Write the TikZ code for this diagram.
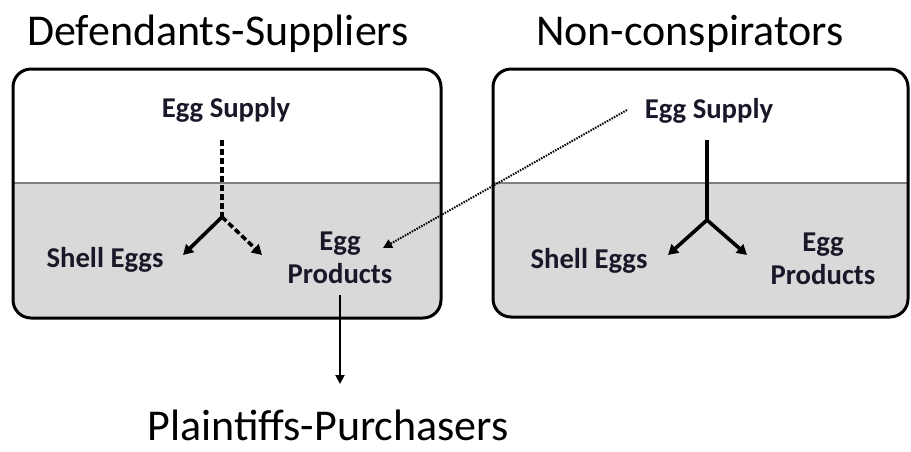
\documentclass[tikz,border=0pt]{standalone}
\usepackage{fontspec}
\setmainfont{Carlito}
\usetikzlibrary{arrows.meta}
\definecolor{boxgray}{HTML}{D9D9D9}
\definecolor{divgray}{HTML}{7F7F7F}
\definecolor{lblcol}{HTML}{181828}
\begin{document}
\begin{tikzpicture}[x=1pt,y=-1pt,
  title/.style={font=\fontsize{44}{50}\selectfont, anchor=base, inner sep=0pt},
  lbl/.style={font=\bfseries\fontsize{28.7}{34}\selectfont, anchor=base, inner sep=0pt, text=lblcol},
  border/.style={line width=3pt, rounded corners=18pt},
  divider/.style={divgray, line width=2pt},
  tree/.style={line width=3.6pt, -{Triangle[length=10pt,width=11pt]}},
  treeline/.style={line width=3.6pt},
  dashline/.style={dash pattern=on 6pt off 3pt},
  dotline/.style={line width=2pt, dash pattern=on 1.5pt off 1.2pt, -{Triangle[length=9pt,width=9pt]}},
  outarrow/.style={line width=2pt, -{Triangle[length=9pt,width=9pt]}}]
\useasboundingbox (0,0) rectangle (911,451);

% titles
\node[title] (t1) at (218,45) {Defendants-Suppliers};
\node[title] (t2) at (690,45) {Non-conspirators};
\node[title] (t3) at (328,440) {Plaintiffs-Purchasers};

% left box
\begin{scope}
  \clip[rounded corners=18pt] (13,69) rectangle (441,318);
  \fill[boxgray] (13,183) rectangle (441,318);
\end{scope}
\draw[divider] (13,183) -- (441,183);
\draw[border] (13,69) rectangle (441,318);

% right box
\begin{scope}
  \clip[rounded corners=18pt] (493,69) rectangle (908,317);
  \fill[boxgray] (493,183) rectangle (908,317);
\end{scope}
\draw[divider] (493,183) -- (908,183);
\draw[border] (493,69) rectangle (908,317);

% left labels
\node[lbl] (ls) at (226,117) {Egg Supply};
\node[lbl] (lsh) at (105,267) {Shell Eggs};
\node[lbl] (le) at (340,250) {Egg};
\node[lbl] (lp) at (340,283) {Products};

% right labels
\node[lbl] (rs) at (709,118) {Egg Supply};
\node[lbl] (rsh) at (589,268) {Shell Eggs};
\node[lbl] (re) at (823,251) {Egg};
\node[lbl] (rp) at (823,284) {Products};

% coordinates
\coordinate (ltop) at (222,140);
\coordinate (lj) at (222,217);
\coordinate (lleft) at (183,255);
\coordinate (lright) at (262,255);
\coordinate (rtop) at (707,140);
\coordinate (rj) at (707,220);
\coordinate (rleft) at (668,255);
\coordinate (rright) at (747,255);
\coordinate (dotstart) at (627,110);
\coordinate (dotend) at (383,248);
\coordinate (outstart) at (340,295);
\coordinate (outend) at (340,384);

% left tree
\draw[treeline, dashline] (ltop) -- (lj);
\draw[tree] (lj) -- (lleft);
\draw[tree, dashline] (lj) -- (lright);

% right tree
\draw[treeline] (rtop) -- (rj);
\draw[tree] (rj) -- (rleft);
\draw[tree] (rj) -- (rright);

% dotted cross link
\draw[dotline] (dotstart) -- (dotend);

% to purchasers
\draw[outarrow] (outstart) -- (outend);
\end{tikzpicture}
\end{document}
